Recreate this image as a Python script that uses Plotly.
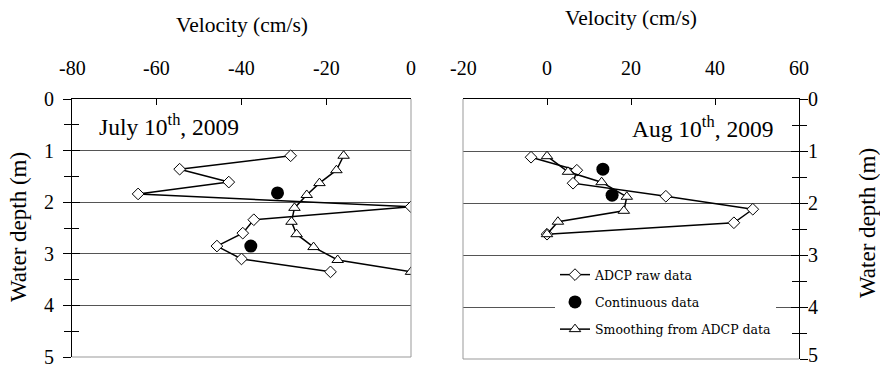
import plotly.graph_objects as go

# ---- data ----
jul_raw_v = [-28.4, -54.6, -43.0, -64.4, 0.0, -37.1, -39.7, -45.8, -40.0, -19.0]
jul_raw_d = [1.10, 1.36, 1.61, 1.84, 2.09, 2.34, 2.60, 2.85, 3.10, 3.35]
jul_sm_v = [-15.9, -17.6, -21.6, -24.6, -27.5, -28.2, -27.0, -23.0, -17.3, 0.0]
jul_sm_d = [1.10, 1.38, 1.63, 1.86, 2.11, 2.38, 2.62, 2.87, 3.12, 3.35]
jul_cont_v = [-31.5, -37.8]
jul_cont_d = [1.82, 2.85]

aug_raw_v = [-3.8, 7.1, 6.2, 28.3, 49.0, 44.5, 0.0]
aug_raw_d = [1.12, 1.37, 1.62, 1.87, 2.12, 2.38, 2.60]
aug_sm_v = [0.0, 5.0, 13.0, 19.0, 18.3, 2.6, 0.0]
aug_sm_d = [1.10, 1.40, 1.60, 1.88, 2.15, 2.36, 2.60]
aug_cont_v = [13.3, 15.5]
aug_cont_d = [1.35, 1.85]

x1_ticks = [-80, -60, -40, -20, 0]
x1_labels = ["-80", "-60", "-40", "-20", "0"]
x2_ticks = [-20, 0, 20, 40, 60]
x2_labels = ["-20", "0", "20", "40", "60"]
y_ticks = [0, 1, 2, 3, 4, 5]
y_labels = ["0", "1", "2", "3", "4", "5"]

names = ["ADCP raw data", "Continuous data", "Smoothing from ADCP data"]
x_title = "Velocity (cm/s)"
y_title = "Water depth (m)"

W, H = 880, 368
FONT = "Liberation Serif"

def px(v):
    return v / W

def py(v):
    return 1 - v / H

fig = go.Figure()

def add_panel(xa, ya, rv, rd, cv, cd, sv, sd, show):
    fig.add_trace(go.Scatter(x=rv, y=rd, xaxis=xa, yaxis=ya, mode="lines+markers",
                             name=names[0], legendgroup="a", showlegend=show,
                             line=dict(color="black", width=1.5),
                             marker=dict(symbol="diamond", size=9, color="white",
                                         line=dict(color="black", width=1))))
    fig.add_trace(go.Scatter(x=cv, y=cd, xaxis=xa, yaxis=ya, mode="markers",
                             name=names[1], legendgroup="b", showlegend=show,
                             marker=dict(symbol="circle", size=13, color="black")))
    fig.add_trace(go.Scatter(x=sv, y=sd, xaxis=xa, yaxis=ya, mode="lines+markers",
                             name=names[2], legendgroup="c", showlegend=show,
                             line=dict(color="black", width=1.5),
                             marker=dict(symbol="triangle-up", size=10, color="white",
                                         line=dict(color="black", width=1))))

add_panel("x", "y", jul_raw_v, jul_raw_d, jul_cont_v, jul_cont_d, jul_sm_v, jul_sm_d, False)
add_panel("x2", "y2", aug_raw_v, aug_raw_d, aug_cont_v, aug_cont_d, aug_sm_v, aug_sm_d, True)

def fnt(size, fam=FONT):
    return dict(family=fam, size=size, color="black")

def xcommon():
    return dict(side="top", ticks="inside", ticklen=6, tickcolor="black",
                showline=True, linecolor="black", linewidth=1, showgrid=False,
                zeroline=False, showticklabels=False, automargin=False)

def ycommon():
    return dict(range=[5, 0], tickvals=y_ticks, ticks="outside", ticklen=8,
                tickcolor="black", showline=True, linecolor="black", linewidth=1,
                showgrid=True, gridcolor="#555", gridwidth=1, zeroline=False,
                showticklabels=False, automargin=False,
                minor=dict(dtick=0.5, tick0=0, ticks="outside", ticklen=7,
                           tickcolor="black", showgrid=False))

def yover():
    return dict(range=[5, 0], tickvals=y_ticks, ticks="inside", ticklen=8,
                tickcolor="black", showticklabels=False, showgrid=False,
                zeroline=False, showline=False, automargin=False,
                minor=dict(dtick=0.5, tick0=0, ticks="inside", ticklen=7,
                           tickcolor="black", showgrid=False))

x1d = [px(72), px(411)]
x2d = [px(463), px(799)]
y1d = [py(357), py(99)]
y2d = [py(359), py(99)]

fig.update_layout(
    width=W, height=H, margin=dict(l=0, r=0, t=0, b=0),
    paper_bgcolor="white", plot_bgcolor="white",
    font=fnt(20),
    xaxis=dict(domain=x1d, range=[-80, 0], tickvals=x1_ticks, anchor="y", **xcommon()),
    yaxis=dict(domain=y1d, anchor="x", side="left", **ycommon()),
    yaxis3=dict(overlaying="y", anchor="x", side="left", **yover()),
    xaxis2=dict(domain=x2d, range=[-20, 60], tickvals=x2_ticks, anchor="y2", **xcommon()),
    yaxis2=dict(domain=y2d, anchor="x2", side="right", **ycommon()),
    yaxis4=dict(overlaying="y2", anchor="x2", side="right", **yover()),
    legend=dict(x=px(555), y=py(260), xanchor="left", yanchor="top",
                bgcolor="white", borderwidth=0, tracegroupgap=8,
                font=fnt(12.5, "DejaVu Serif")),
    showlegend=True,
)

fig.add_trace(go.Scatter(x=[None], y=[None], xaxis="x", yaxis="y3", showlegend=False, hoverinfo="skip"))
fig.add_trace(go.Scatter(x=[None], y=[None], xaxis="x2", yaxis="y4", showlegend=False, hoverinfo="skip"))

border = dict(color="#999", width=1)
fig.add_shape(type="line", xref="x domain", yref="y domain", x0=1, x1=1, y0=0, y1=1, line=border)
fig.add_shape(type="line", xref="x domain", yref="y domain", x0=0, x1=1, y0=0, y1=0, line=border)
fig.add_shape(type="line", xref="x2 domain", yref="y2 domain", x0=0, x1=0, y0=0, y1=1, line=border)
fig.add_shape(type="line", xref="x2 domain", yref="y2 domain", x0=0, x1=1, y0=0, y1=0, line=border)

# tick labels (placed on the axes' own scales)
tkf = fnt(20)
for v, t in zip(x1_ticks, x1_labels):
    fig.add_annotation(text=t, xref="x", yref="paper", x=v, y=py(68), xanchor="center",
                       yanchor="middle", showarrow=False, font=tkf)
for v, t in zip(x2_ticks, x2_labels):
    fig.add_annotation(text=t, xref="x2", yref="paper", x=v, y=py(68), xanchor="center",
                       yanchor="middle", showarrow=False, font=tkf)
for v, t in zip(y_ticks, y_labels):
    fig.add_annotation(text=t, xref="paper", yref="y", x=px(56), y=v, xanchor="right",
                       yanchor="middle", showarrow=False, font=tkf)
    fig.add_annotation(text=t, xref="paper", yref="y2", x=px(806), y=v, xanchor="left",
                       yanchor="middle", showarrow=False, font=tkf,
                       yshift=4 if v == y_ticks[-1] else 0)

# axis titles
ttf = fnt(21.5)
fig.add_annotation(text=x_title, xref="x domain", yref="paper", x=0.5, y=py(25),
                   xanchor="center", yanchor="middle", showarrow=False, font=ttf)
fig.add_annotation(text=x_title, xref="x2 domain", yref="paper", x=0.5, y=py(18),
                   xanchor="center", yanchor="middle", showarrow=False, font=ttf)
ytf = fnt(23)
fig.add_annotation(text=y_title, xref="paper", yref="paper", x=px(18), y=py(227),
                   xanchor="center", yanchor="middle", textangle=-90, showarrow=False, font=ytf)
fig.add_annotation(text=y_title, xref="paper", yref="paper", x=px(867), y=py(223),
                   xanchor="center", yanchor="middle", textangle=-90, showarrow=False, font=ytf)

annfont = fnt(23.5)
fig.add_annotation(text="July 10<sup>th</sup>, 2009", xref="paper", yref="paper",
                   x=px(97), y=py(125), xanchor="left", yanchor="middle",
                   showarrow=False, font=annfont)
fig.add_annotation(text="Aug 10<sup>th</sup>, 2009", xref="paper", yref="paper",
                   x=px(775), y=py(127), xanchor="right", yanchor="middle",
                   showarrow=False, font=annfont)

fig.write_html("out.html")
